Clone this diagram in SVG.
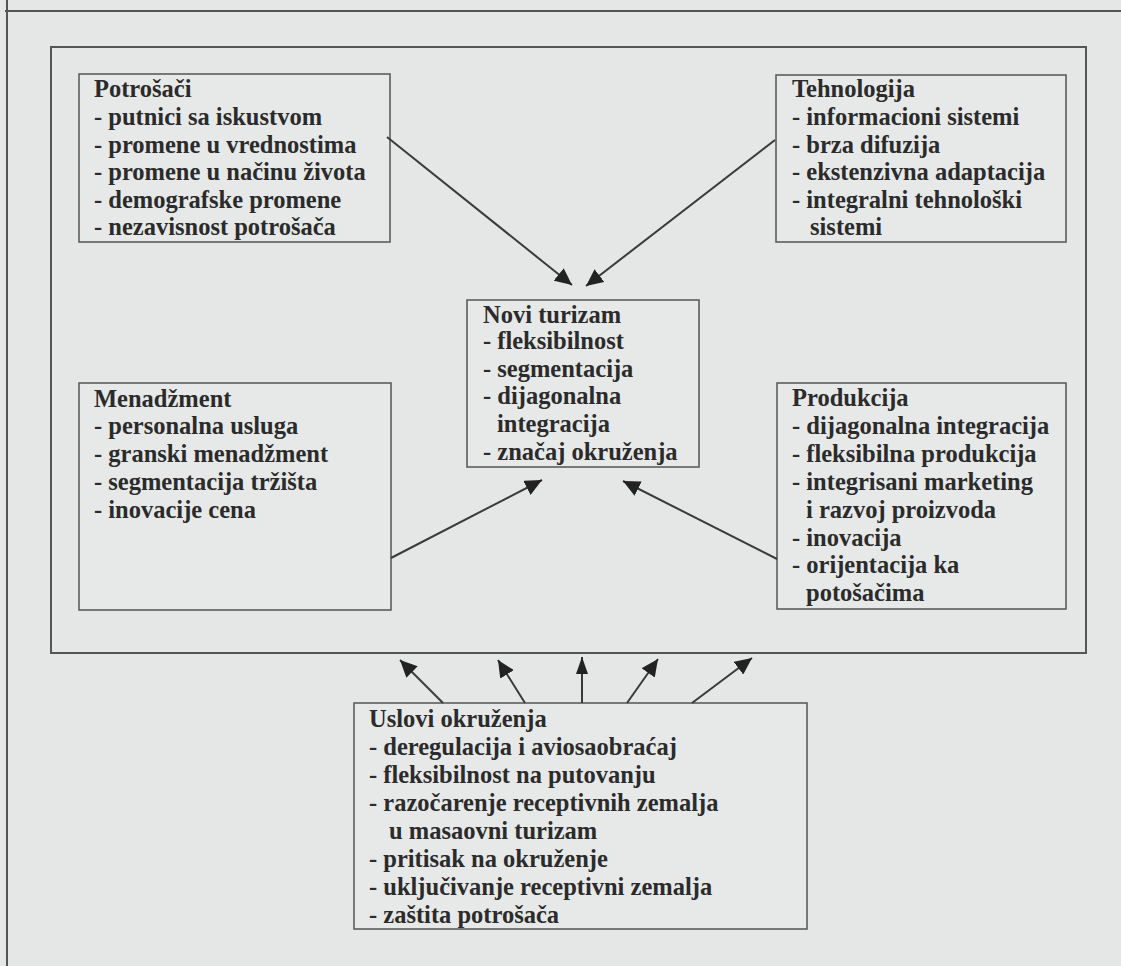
<svg xmlns="http://www.w3.org/2000/svg" width="1121" height="966" viewBox="0 0 1121 966">
<style>
.bg{fill:#e5e7e7}
.box{fill:#e7e9e9;stroke:#5c5c5c;stroke-width:1.6}
.frame{fill:none;stroke:#555;stroke-width:2}
.rule{fill:none;stroke:#555;stroke-width:2}
.t{font-family:"Liberation Serif","Times New Roman",serif;font-size:24.5px;font-weight:bold;fill:#2b2b2b}
.c{fill:none;stroke:#3a3a3a;stroke-width:2}
</style>
<defs>
<marker id="ah" markerUnits="userSpaceOnUse" markerWidth="18" markerHeight="16" refX="17" refY="8" orient="auto">
<path d="M0,0 L17,8 L0,16 z" fill="#222"/>
</marker>
<marker id="ahs" markerUnits="userSpaceOnUse" markerWidth="18" markerHeight="12" refX="17" refY="6" orient="auto">
<path d="M0,0 L17,6 L0,12 z" fill="#222"/>
</marker>
</defs>
<rect class="bg" x="0" y="0" width="1121" height="966"/>
<g id="page-rules">
<line class="rule" x1="5" y1="11" x2="1121" y2="11"/>
<line class="rule" x1="7" y1="0" x2="7" y2="966"/>
</g>
<rect id="frame" class="frame" x="51" y="47" width="1035" height="606"/>
<g id="potrosaci">
<rect class="box" x="79" y="74" width="311" height="168"/>
<text class="t" x="94" y="97">Potrošači</text>
<text class="t" x="94" y="125">- putnici sa iskustvom</text>
<text class="t" x="94" y="153">- promene u vrednostima</text>
<text class="t" x="94" y="180">- promene u načinu života</text>
<text class="t" x="94" y="208">- demografske promene</text>
<text class="t" x="94" y="235">- nezavisnost potrošača</text>
</g>
<g id="tehnologija">
<rect class="box" x="776" y="75" width="290" height="167"/>
<text class="t" x="792" y="97">Tehnologija</text>
<text class="t" x="792" y="125">- informacioni sistemi</text>
<text class="t" x="792" y="153">- brza difuzija</text>
<text class="t" x="792" y="180">- ekstenzivna adaptacija</text>
<text class="t" x="792" y="208">- integralni tehnološki</text>
<text class="t" x="810" y="235">sistemi</text>
</g>
<g id="novi-turizam">
<rect class="box" x="467" y="300" width="232" height="167"/>
<text class="t" x="483" y="323">Novi turizam</text>
<text class="t" x="483" y="349">- fleksibilnost</text>
<text class="t" x="483" y="377">- segmentacija</text>
<text class="t" x="483" y="404">- dijagonalna</text>
<text class="t" x="497" y="432">integracija</text>
<text class="t" x="483" y="460">- značaj okruženja</text>
</g>
<g id="menadzment">
<rect class="box" x="79" y="383" width="312" height="227"/>
<text class="t" x="94" y="407">Menadžment</text>
<text class="t" x="94" y="434">- personalna usluga</text>
<text class="t" x="94" y="462">- granski menadžment</text>
<text class="t" x="94" y="490">- segmentacija tržišta</text>
<text class="t" x="94" y="518">- inovacije cena</text>
</g>
<g id="produkcija">
<rect class="box" x="777" y="383" width="289" height="226"/>
<text class="t" x="792" y="406">Produkcija</text>
<text class="t" x="792" y="434">- dijagonalna integracija</text>
<text class="t" x="792" y="462">- fleksibilna produkcija</text>
<text class="t" x="792" y="490">- integrisani marketing</text>
<text class="t" x="806" y="518">i razvoj proizvoda</text>
<text class="t" x="792" y="546">- inovacija</text>
<text class="t" x="792" y="573">- orijentacija ka</text>
<text class="t" x="806" y="601">potošačima</text>
</g>
<g id="uslovi-okruzenja">
<rect class="box" x="354" y="703" width="453" height="226"/>
<text class="t" x="369" y="727">Uslovi okruženja</text>
<text class="t" x="369" y="755">- deregulacija i aviosaobraćaj</text>
<text class="t" x="369" y="783">- fleksibilnost na putovanju</text>
<text class="t" x="369" y="811">- razočarenje receptivnih zemalja</text>
<text class="t" x="389" y="839">u masaovni turizam</text>
<text class="t" x="369" y="867">- pritisak na okruženje</text>
<text class="t" x="369" y="895">- uključivanje receptivni zemalja</text>
<text class="t" x="369" y="923">- zaštita potrošača</text>
</g>
<g id="connectors">
<line class="c" x1="387" y1="137" x2="572" y2="285" marker-end="url(#ah)"/>
<line class="c" x1="775" y1="140" x2="586" y2="286" marker-end="url(#ah)"/>
<line class="c" x1="391" y1="558" x2="542" y2="480" marker-end="url(#ah)"/>
<line class="c" x1="777" y1="559" x2="623" y2="481" marker-end="url(#ah)"/>
<line class="c" x1="443" y1="703" x2="400" y2="660" marker-end="url(#ah)"/>
<line class="c" x1="525" y1="703" x2="498" y2="660" marker-end="url(#ah)"/>
<line class="c" x1="582" y1="703" x2="582" y2="657" marker-end="url(#ahs)"/>
<line class="c" x1="627" y1="703" x2="658" y2="659" marker-end="url(#ah)"/>
<line class="c" x1="692" y1="703" x2="752" y2="658" marker-end="url(#ah)"/>
</g>
</svg>
